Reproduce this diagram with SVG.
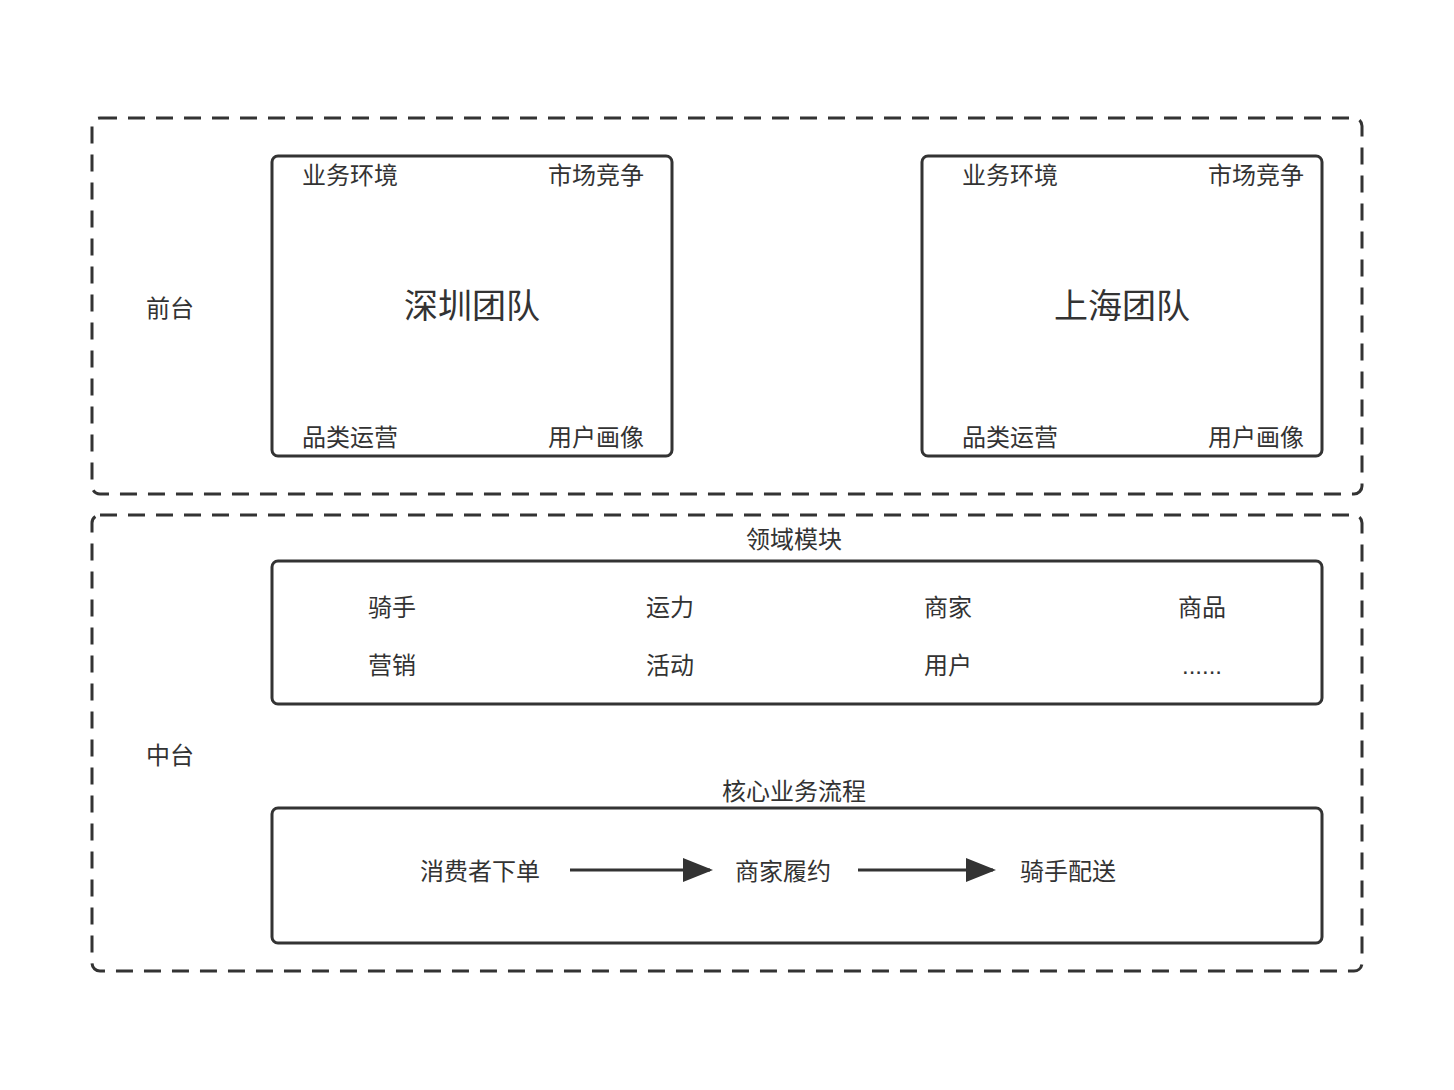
<svg xmlns="http://www.w3.org/2000/svg" width="1454" height="1090" viewBox="0 0 1454 1090">
<style>
.dash{fill:none;stroke:#333;stroke-width:3;stroke-dasharray:17 11}
.box{fill:none;stroke:#333;stroke-width:3}
text{font-family:"Liberation Sans","Noto Sans CJK SC",sans-serif;fill:#333;font-size:24px;text-anchor:middle;dominant-baseline:central}
.big{font-size:34px}
.ln{stroke:#333;stroke-width:3;fill:none}
</style>
<defs><marker id="ah" markerWidth="10" markerHeight="8" refX="9" refY="4" orient="auto" markerUnits="strokeWidth"><path d="M0,0 L10,4 L0,8 Z" fill="#333"/></marker></defs>
<rect width="1454" height="1090" fill="#fff"/>
<g id="front">
<rect class="dash" x="92" y="118" width="1270" height="376" rx="8"/>
<text x="170" y="308">前台</text>
</g>
<g id="shenzhen">
<rect class="box" x="272" y="156" width="400" height="300" rx="6"/>
<text x="350" y="175">业务环境</text><text x="596" y="175">市场竞争</text>
<text class="big" x="472" y="306">深圳团队</text>
<text x="350" y="437">品类运营</text><text x="596" y="437">用户画像</text>
</g>
<g id="shanghai">
<rect class="box" x="922" y="156" width="400" height="300" rx="6"/>
<text x="1010" y="175">业务环境</text><text x="1256" y="175">市场竞争</text>
<text class="big" x="1122" y="306">上海团队</text>
<text x="1010" y="437">品类运营</text><text x="1256" y="437">用户画像</text>
</g>
<g id="middle">
<rect class="dash" x="92" y="515" width="1270" height="456" rx="8"/>
<text x="170" y="755">中台</text>
</g>
<g id="domain">
<text x="794" y="539">领域模块</text>
<rect class="box" x="272" y="561" width="1050" height="143" rx="6"/>
<text x="392" y="607">骑手</text><text x="670" y="607">运力</text><text x="948" y="607">商家</text><text x="1202" y="607">商品</text>
<text x="392" y="665">营销</text><text x="670" y="665">活动</text><text x="948" y="665">用户</text><text x="1202" y="665">......</text>
</g>
<g id="core">
<text x="794" y="791">核心业务流程</text>
<rect class="box" x="272" y="808" width="1050" height="135" rx="6"/>
<text x="480" y="871">消费者下单</text>
<text x="783" y="871">商家履约</text>
<text x="1068" y="871">骑手配送</text>
</g>
<g id="connectors">
<line class="ln" x1="570" y1="870" x2="710" y2="870" marker-end="url(#ah)"/>
<line class="ln" x1="858" y1="870" x2="993" y2="870" marker-end="url(#ah)"/>
</g>
</svg>
